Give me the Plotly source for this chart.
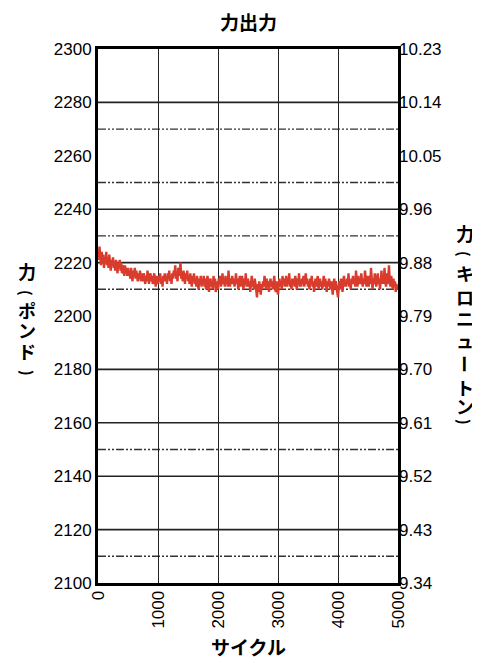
import plotly.graph_objects as go

# ---- data ----
cycle_step = 12.5
force_lbf = [
    2225, 2221, 2226, 2222, 2219, 2224, 2220, 2223, 2218, 2222,
    2220, 2224, 2219, 2222, 2218, 2223, 2220, 2217, 2221, 2219,
    2222, 2218, 2220, 2217, 2221, 2219, 2216, 2220, 2218, 2221,
    2217, 2220, 2216, 2219, 2217, 2215, 2219, 2216, 2218, 2215,
    2218, 2215, 2217, 2214, 2218, 2216, 2213, 2217, 2215, 2218,
    2214, 2217, 2215, 2213, 2216, 2214, 2217, 2213, 2215, 2216,
    2213, 2216, 2214, 2212, 2215, 2213, 2217, 2214, 2212, 2215,
    2216, 2213, 2215, 2212, 2214, 2216, 2213, 2211, 2215, 2213,
    2212, 2215, 2213, 2216, 2212, 2214, 2211, 2215, 2213, 2216,
    2213, 2215, 2212, 2216, 2214, 2217, 2213, 2215, 2212, 2216,
    2214, 2217, 2215, 2219, 2214, 2216, 2213, 2218, 2215, 2217,
    2220, 2214, 2216, 2213, 2217, 2215, 2212, 2216, 2214, 2217,
    2213, 2215, 2212, 2216, 2214, 2211, 2215, 2213, 2216, 2212,
    2214, 2211, 2215, 2213, 2210, 2214, 2212, 2215, 2211, 2213,
    2212, 2215, 2211, 2214, 2210, 2213, 2215, 2212, 2209, 2213,
    2214, 2211, 2213, 2210, 2215, 2212, 2214, 2209, 2213, 2211,
    2210, 2214, 2212, 2215, 2211, 2213, 2216, 2212, 2214, 2211,
    2215, 2212, 2214, 2211, 2217, 2213, 2211, 2214, 2212, 2215,
    2212, 2214, 2211, 2213, 2216, 2212, 2214, 2210, 2213, 2215,
    2211, 2213, 2215, 2212, 2210, 2214, 2212, 2216, 2211, 2213,
    2214, 2211, 2213, 2209, 2212, 2215, 2211, 2213, 2210, 2214,
    2212, 2210, 2207, 2212, 2209, 2213, 2211, 2208, 2212, 2210,
    2213, 2211, 2215, 2212, 2210, 2214, 2211, 2213, 2209, 2212,
    2214, 2211, 2213, 2210, 2212, 2215, 2211, 2209, 2213, 2211,
    2208, 2212, 2214, 2211, 2213, 2210, 2215, 2212, 2214, 2211,
    2213, 2215, 2211, 2214, 2212, 2216, 2211, 2213, 2210, 2214,
    2212, 2214, 2211, 2215, 2213, 2210, 2214, 2212, 2216, 2211,
    2213, 2211, 2214, 2212, 2215, 2211, 2213, 2216, 2212, 2214,
    2211, 2213, 2210, 2214, 2212, 2215, 2211, 2213, 2209, 2212,
    2214, 2211, 2213, 2215, 2210, 2212, 2214, 2211, 2213, 2210,
    2213, 2215, 2211, 2214, 2212, 2209, 2213, 2211, 2214, 2212,
    2210, 2213, 2211, 2208, 2212, 2214, 2210, 2213, 2211, 2209,
    2207, 2211, 2213, 2210, 2214, 2212, 2209, 2213, 2215, 2211,
    2213, 2211, 2214, 2212, 2216, 2211, 2213, 2210, 2214, 2212,
    2215, 2212, 2214, 2211, 2217, 2213, 2211, 2215, 2212, 2214,
    2212, 2216, 2213, 2211, 2214, 2212, 2217, 2213, 2211, 2215,
    2213, 2211, 2215, 2212, 2218, 2213, 2210, 2214, 2212, 2216,
    2214, 2211, 2213, 2216, 2212, 2214, 2210, 2213, 2217, 2212,
    2215, 2212, 2218, 2213, 2211, 2216, 2212, 2214, 2219, 2213,
    2211, 2215, 2212, 2210, 2214, 2211, 2213, 2209, 2212, 2210,
    2211,
]
cycles = [i * cycle_step for i in range(len(force_lbf))]

x_ticks = [0, 1000, 2000, 3000, 4000, 5000]
y_ticks = [2100, 2120, 2140, 2160, 2180, 2200, 2220, 2240, 2260, 2280, 2300]
kn_labels = ["9.34", "9.43", "9.52", "9.61", "9.70", "9.79", "9.88",
             "9.96", "10.05", "10.14", "10.23"]
solid_lines = [2120, 2140, 2160, 2180, 2220, 2240, 2280]
dashdot_lines = [2110, 2150, 2210, 2230, 2250, 2270]

title_text = "力出力"
x_title = "サイクル"
y_title_left = ["力", "(", "ポ", "ン", "ド", ")"]
y_title_right = ["力", "(", "キ", "ロ", "ニ", "ュ", "ー", "ト", "ン", ")"]

TICK_FONT = "Liberation Sans, Arial, sans-serif"
CJK_FONT = "Noto Sans CJK JP, Noto Sans, sans-serif"

# the page body adds an 8px margin, so the figure is 8px smaller and
# pixel positions below are page positions minus 8
OFF = 8
W, H = 480 - OFF, 661 - OFF
L, T = 98 - OFF, 49 - OFF
R = W - (398 - OFF)
B = H - (583 - OFF)
pw, ph = W - L - R, H - T - B

fig = go.Figure()

fig.add_trace(go.Scatter(
    x=cycles, y=force_lbf, mode="lines",
    line=dict(color="#d93c2c", width=2.4),
    showlegend=False, hoverinfo="skip",
))
# invisible trace to activate the right axis
fig.add_trace(go.Scatter(
    x=[cycles[0]], y=[force_lbf[0]], yaxis="y2", mode="markers",
    marker=dict(opacity=0), showlegend=False, hoverinfo="skip",
))

shapes = []
for v in solid_lines:
    shapes.append(dict(type="line", xref="paper", x0=0, x1=1, yref="y",
                       y0=v, y1=v, line=dict(color="#222", width=1.6), layer="below"))
for v in dashdot_lines:
    shapes.append(dict(type="line", xref="paper", x0=0, x1=1, yref="y",
                       y0=v, y1=v,
                       line=dict(color="#333", width=1.4,
                                 dash="8px,2px,2px,2px,2px,2px"),
                       layer="below"))


def px_ann(text, xpx, ypx, size, angle=0):
    xpx -= OFF
    ypx -= OFF
    return dict(text="<b>" + text + "</b>", x=(xpx - L) / pw, y=(H - B - ypx) / ph,
                xref="paper", yref="paper", showarrow=False, textangle=angle,
                xanchor="center", yanchor="middle",
                font=dict(family=CJK_FONT, size=size, color="black"))


annotations = []
left_y = [271, 293, 310, 330, 351, 373]
for ch, yy in zip(y_title_left, left_y):
    rot = ch in "()"
    annotations.append(px_ann(ch, 27, yy, 15 if rot else 18, 90 if rot else 0))
right_y = [233, 254, 273, 297, 318, 340, 364, 387, 406, 422]
for ch, yy in zip(y_title_right, right_y):
    rot = ch in "()ー"
    size = 15 if ch in "()" else 18
    annotations.append(px_ann(ch, 465, yy, size, 90 if rot else 0))
annotations.append(px_ann(x_title, 248, 646, 19))
annotations.append(px_ann(title_text, 248, 22, 19))

fig.update_layout(
    width=W, height=H,
    margin=dict(l=L, r=R, t=T, b=B),
    paper_bgcolor="white", plot_bgcolor="white",
    xaxis=dict(
        range=[0, 5000], tickvals=x_ticks, ticktext=[str(v) for v in x_ticks],
        tickangle=-90, showgrid=True, gridcolor="#222", gridwidth=1,
        showline=True, linecolor="black", linewidth=3, mirror=True,
        zeroline=False, ticks="", automargin=False, ticklabelstandoff=-2,
        tickfont=dict(family=TICK_FONT, size=17, color="black"),
    ),
    yaxis=dict(
        range=[2100, 2300], tickvals=y_ticks, ticktext=[str(v) for v in y_ticks],
        showgrid=False, zeroline=False, automargin=False,
        showline=True, linecolor="black", linewidth=3, mirror=True,
        ticks="", tickfont=dict(family=TICK_FONT, size=17, color="black"),
    ),
    yaxis2=dict(
        range=[2100, 2300], tickvals=y_ticks, ticktext=kn_labels,
        overlaying="y", side="right", showgrid=False, zeroline=False,
        showline=False, ticks="", automargin=False,
        tickfont=dict(family=TICK_FONT, size=17, color="black"),
    ),
    shapes=shapes,
    annotations=annotations,
)

fig.write_html("out.html")
